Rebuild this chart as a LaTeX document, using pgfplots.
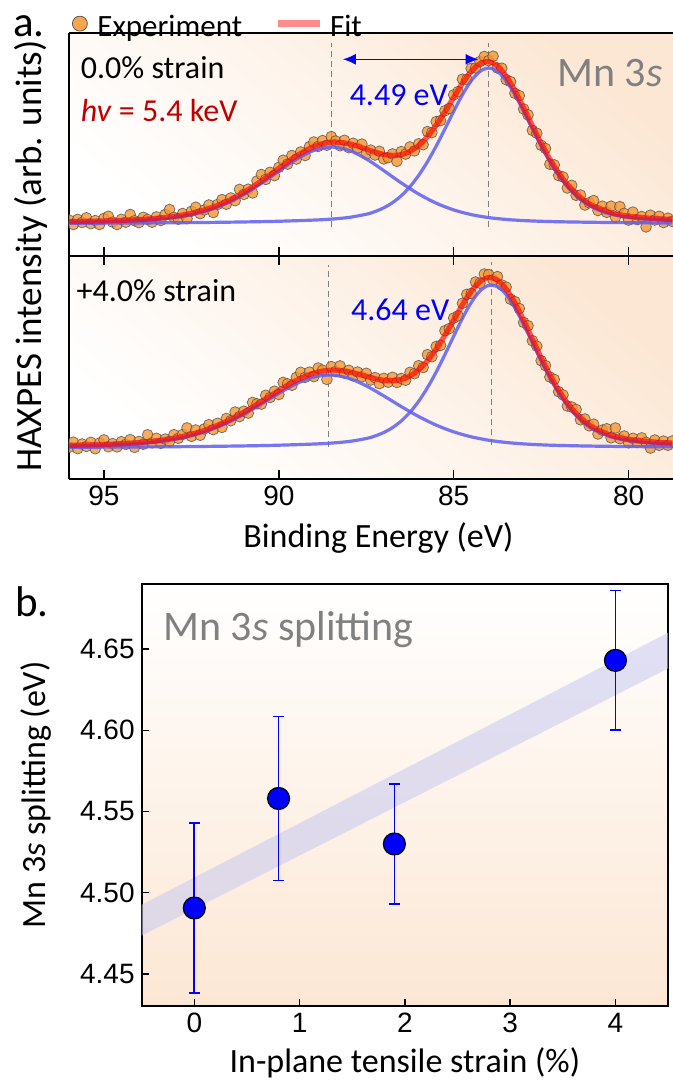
\documentclass[border=0pt]{standalone}
\usepackage{fontspec}
\setmainfont{Carlito}
\newfontfamily\tickfont{Liberation Sans}
\usepackage{pgfplots}
\usepackage{pgfplotstable}
\pgfplotsset{compat=1.18}
\usetikzlibrary{arrows.meta}

\definecolor{expfill}{HTML}{F7962F}
\definecolor{compblue}{HTML}{5F5FF2}
\definecolor{peach}{HTML}{FCE7D4}
\definecolor{band}{HTML}{C8C8F0}
\definecolor{hvred}{HTML}{C00000}

% ---- panel a, 0.0% strain ----
\pgfplotstableread{
x y
96.000 35.9
95.875 31.5
95.750 36.6
95.625 33.6
95.500 38.2
95.375 32.3
95.250 35.4
95.125 31.5
95.000 37.6
94.875 39.7
94.750 33.9
94.625 31.5
94.500 36.7
94.375 33.8
94.250 41.5
94.125 35.2
94.000 33.4
93.875 38.7
93.750 36.5
93.625 33.8
93.500 39.1
93.375 35.5
93.250 41.5
93.125 46.5
93.000 38.6
92.875 36.8
92.750 42.5
92.625 37.3
92.500 44.7
92.375 48.8
92.250 42.4
92.125 46.1
92.000 51.0
91.875 43.5
91.750 51.6
91.625 56.4
91.500 51.8
91.375 58.0
91.250 55.3
91.125 66.6
91.000 61.6
90.875 66.8
90.750 63.1
90.625 75.0
90.500 81.5
90.375 76.6
90.250 83.7
90.125 80.4
90.000 88.6
89.875 95.8
89.750 91.9
89.625 100.5
89.500 96.9
89.375 104.0
89.250 100.5
89.125 109.3
89.000 114.0
88.875 109.6
88.750 115.4
88.625 110.8
88.500 119.4
88.375 115.0
88.250 110.3
88.125 115.7
88.000 108.4
87.875 112.7
87.750 107.9
87.625 111.9
87.500 101.9
87.375 105.9
87.250 101.0
87.125 104.7
87.000 97.1
86.875 98.4
86.750 102.1
86.625 94.7
86.500 104.4
86.375 101.9
86.250 109.0
86.125 105.1
86.000 112.2
85.875 111.3
85.750 124.4
85.625 123.4
85.500 134.4
85.375 135.4
85.250 145.3
85.125 147.5
85.000 161.2
84.875 164.4
84.750 176.8
84.625 176.5
84.500 187.6
84.375 188.0
84.250 194.4
84.125 199.5
84.000 195.4
83.875 199.8
83.750 188.0
83.625 187.8
83.500 176.3
83.375 174.3
83.250 162.7
83.125 160.3
83.000 147.0
82.875 141.1
82.750 125.6
82.625 122.8
82.500 110.7
82.375 107.5
82.250 91.8
82.125 91.1
82.000 80.5
81.875 79.0
81.750 68.0
81.625 70.6
81.500 60.7
81.375 60.9
81.250 51.0
81.125 53.3
81.000 55.4
80.875 45.5
80.750 49.8
80.625 43.7
80.500 49.8
80.375 38.9
80.250 49.4
80.125 42.6
80.000 35.9
79.875 43.9
79.750 36.4
79.625 39.5
79.500 29.1
79.375 40.8
79.250 36.0
79.125 39.7
79.000 33.5
78.875 37.8
78.750 34.6
}\exptop

\pgfplotstableread{
x y
96 34.40
95.5 34.71
95 35.10
94.5 35.64
94 36.41
93.5 37.63
93 39.58
92.5 42.69
92 47.46
91.5 54.34
91 63.58
90.5 74.99
90 87.65
89.5 99.94
89 109.47
88.5 113.90
88 112.36
87.5 106.89
87.25 103.88
87 101.58
86.75 100.55
86.5 101.40
86.25 104.66
86 110.65
85.75 119.41
85.5 130.85
85.25 144.28
85 158.68
84.75 172.82
84.5 184.63
84.25 192.35
84 194.42
83.75 189.97
83.5 179.75
83.25 165.22
83 148.02
82.75 130.13
82.5 112.72
82.25 96.77
82 82.96
81.75 71.45
81.5 62.24
81.25 55.15
81 49.88
80.5 43.27
80 39.88
79.5 38.09
79 37.00
78.75 36.59
}\fittop

\pgfplotstableread{
x y
96 32.72
95 32.85
94 33.03
93 33.26
92 33.59
91 34.05
90 34.75
89 35.92
88.5 36.90
88 38.55
87.5 41.78
87.25 44.43
87 48.19
86.75 53.36
86.5 60.30
86.25 69.36
86 80.70
85.75 94.30
85.5 110.00
85.25 127.10
85 144.60
84.75 161.30
84.5 175.20
84.25 184.60
84 188.00
83.75 184.60
83.5 175.20
83.25 161.30
83 144.60
82.75 127.10
82.5 110.00
82.25 94.30
82 80.70
81.75 69.36
81.5 60.30
81.25 53.36
81 48.19
80.75 44.43
80.5 41.78
80 38.55
79.5 36.90
79 35.92
78.75 35.56
}\maintop

\pgfplotstableread{
x y
96 33.68
95.5 33.93
95 34.25
94.5 34.70
94 35.38
93.5 36.49
93 38.32
92.5 41.28
92 45.87
91.5 52.54
91 61.53
90.5 72.62
90 84.90
89.5 96.68
89 105.55
88.5 109.00
88 105.81
87.5 97.11
87 85.39
86.5 73.10
86 61.95
85.5 52.85
85 46.08
84.5 41.43
84 38.42
83.5 36.55
83 35.42
82.5 34.72
82 34.26
81 33.69
80 33.33
79 33.08
78.75 33.03
}\sattop

% ---- panel a, +4.0% strain ----
\pgfplotstableread{
x y
96.000 31.7
95.875 36.8
95.750 30.4
95.625 35.0
95.500 32.6
95.375 36.7
95.250 30.3
95.125 36.0
95.000 39.1
94.875 32.3
94.750 35.4
94.625 32.1
94.500 37.3
94.375 34.6
94.250 39.4
94.125 31.6
94.000 37.5
93.875 34.8
93.750 44.2
93.625 36.2
93.500 40.7
93.375 35.7
93.250 39.9
93.125 37.6
93.000 44.3
92.875 40.7
92.750 44.6
92.625 51.1
92.500 42.7
92.375 49.0
92.250 43.8
92.125 50.2
92.000 54.3
91.875 49.4
91.750 55.7
91.625 51.6
91.500 60.6
91.375 58.3
91.250 67.0
91.125 62.4
91.000 67.8
90.875 65.9
90.750 76.5
90.625 75.2
90.500 74.9
90.375 83.7
90.250 81.5
90.125 87.8
90.000 84.5
89.875 96.6
89.750 95.2
89.625 93.7
89.500 101.6
89.375 106.7
89.250 101.6
89.125 106.9
89.000 102.4
88.875 111.0
88.750 108.9
88.625 99.6
88.500 112.4
88.375 107.5
88.250 113.1
88.125 106.0
88.000 108.7
87.875 103.2
87.750 107.0
87.625 102.3
87.500 105.7
87.375 99.0
87.250 101.4
87.125 95.4
87.000 100.7
86.875 96.8
86.750 101.7
86.625 96.6
86.500 100.5
86.375 98.8
86.250 106.7
86.125 105.3
86.000 113.3
85.875 111.5
85.750 124.3
85.625 122.3
85.500 132.5
85.375 133.7
85.250 148.3
85.125 150.4
85.000 161.0
84.875 163.2
84.750 175.7
84.625 184.7
84.500 185.6
84.375 197.0
84.250 195.8
84.125 205.0
84.000 204.4
83.875 199.2
83.750 202.4
83.625 194.0
83.500 191.9
83.375 179.8
83.250 177.4
83.125 170.5
83.000 156.6
82.875 153.3
82.750 138.3
82.625 132.9
82.500 118.3
82.375 113.4
82.250 102.0
82.125 99.6
82.000 87.3
81.875 84.1
81.750 73.0
81.625 72.0
81.500 69.5
81.375 59.2
81.250 60.0
81.125 53.2
81.000 54.8
80.875 45.0
80.750 48.9
80.625 50.2
80.500 41.2
80.375 51.0
80.250 40.4
80.125 43.0
80.000 36.2
79.875 40.7
79.750 36.6
79.625 41.1
79.500 36.7
79.375 30.9
79.250 39.0
79.125 33.7
79.000 37.9
78.875 33.7
78.750 38.0
}\expmid

\pgfplotstableread{
x y
96 33.69
95.5 34.07
95 34.58
94.5 35.32
94 36.44
93.5 38.16
93 40.80
92.5 44.70
92 50.24
91.5 57.62
91 66.83
90.5 77.42
90 88.49
89.5 98.59
89 105.91
88.5 108.91
88 107.22
87.5 102.67
87.25 100.34
87 98.66
86.75 98.20
86.5 99.50
86.25 103.06
86 109.26
85.75 118.28
85.5 129.95
85.25 143.84
85 159.03
84.75 174.21
84.5 187.62
84.25 197.33
84 201.43
83.75 198.91
83.5 189.94
83.25 175.86
83 158.55
82.75 139.81
82.5 121.27
82.25 104.02
82 88.76
81.75 75.92
81.5 65.54
81.25 57.45
81 51.33
80.5 43.65
80 39.72
79.5 37.66
79 36.42
78.75 35.97
}\fitmid

\pgfplotstableread{
x y
96 31.74
95 31.88
94 32.06
93 32.30
92 32.63
91 33.10
90 33.81
89 34.96
88.5 35.92
88 37.50
87.5 40.50
87.25 43.00
87 46.52
86.75 51.41
86.5 58.04
86.25 66.76
86 77.83
85.75 91.33
85.5 107.06
85.25 124.55
85 142.87
84.75 160.73
84.5 176.41
84.25 187.99
84 193.64
83.75 192.37
83.5 184.41
83.25 171.13
83 154.46
82.75 136.23
82.5 118.09
82.25 101.17
82 86.18
81.75 73.56
81.5 63.36
81.25 55.43
81 49.45
80.5 41.99
80 38.25
79.5 36.33
79 35.22
78.75 34.83
}\mainmid

\pgfplotstableread{
x y
96 32.95
95.5 33.26
95 33.70
94.5 34.36
94 35.38
93.5 36.99
93 39.50
92.5 43.25
92 48.61
91.5 55.78
91 64.73
90.5 75.00
90 85.68
89.5 95.28
89 101.95
88.5 103.99
88 100.72
87.5 93.17
87 83.14
86.5 72.46
86 62.43
85.5 53.89
85 47.16
84.5 42.21
84 38.79
83.5 36.53
83 35.09
82.5 34.18
82 33.58
81 32.88
80 32.47
79 32.20
78.75 32.14
}\satmid

\tikzset{note/.style={inner sep=0pt, font=\fontsize{16}{18}\selectfont}}
\pgfplotsset{
  expleg/.style={legend image code/.code={%
    \path[draw=none, fill=none] (0pt,-1pt) rectangle (10.5pt,1pt);
    \draw[##1] plot coordinates {(5.25pt,1.7pt)};}},
  fitleg/.style={legend image code/.code={%
    \draw[##1] (0pt,1.7pt) -- (21pt,1.7pt);}},
}

\begin{document}
\begin{tikzpicture}
\path[use as bounding box] (0,0) rectangle (336.5pt,-541pt);
\pgfplotsset{
  spec/.style={
    scale only axis, width=302pt, height=111.5pt,
    x dir=reverse, xmin=78.73, xmax=96, ymin=0, ymax=223,
    xtick={80,85,90,95}, ytick=\empty,
    axis x line*=box, axis y line*=left,
    tick align=inside, major tick length=4.5pt,
    axis line style={line width=0.9pt},
    tick style={black, line width=0.7pt},
    clip marker paths=true,
    axis background/.style={shade, top color=peach, bottom color=white, middle color=peach!45!white, shading angle=-40},
    ticklabel style={font=\tickfont\fontsize{14}{16}\selectfont},
    /pgf/number format/assume math mode=true,
  },
  expt/.style={only marks, mark=*, mark size=2.7pt,
    mark options={fill=expfill, fill opacity=0.8, draw=black!70, draw opacity=0.8, line width=0.35pt}},
  comp/.style={compblue, line width=1.6pt, opacity=0.85, smooth, no marks},
  fitl/.style={red, line width=2.6pt, opacity=0.65, smooth, no marks},
  guide/.style={gray, line width=0.5pt, dash pattern=on 3pt off 2pt, no marks},
}

% top panel: 0.0 % strain
\begin{axis}[spec, at={(34.5pt,-16.5pt)}, anchor=north west,
  xtick pos=left, xticklabels={},
  legend columns=2,
  legend style={draw=none, fill=none, at={(axis description cs:0,1)}, anchor=south west,
    inner xsep=0pt, inner ysep=0pt, yshift=-3.3pt, font=\fontsize{15.5}{17}\selectfont,
    nodes={inner sep=0pt},
    /tikz/every odd column/.append style={column sep=3.5pt},
    /tikz/every even column/.append style={column sep=16pt}}]
\addlegendimage{expleg, only marks, mark=*, mark size=3.75pt,
  mark options={fill=expfill, fill opacity=0.85, draw=black!70, line width=0.35pt}}
\addlegendentry{Experiment}
\addlegendimage{fitleg, red, opacity=0.45, line width=3.5pt}
\addlegendentry{Fit}
\addplot[guide, forget plot] coordinates {(88.49,29) (88.49,213)};
\addplot[guide, forget plot] coordinates {(84.00,29) (84.00,213)};
\addplot[expt, forget plot] table {\exptop};
\addplot[comp, forget plot] table {\maintop};
\addplot[comp, forget plot] table {\sattop};
\addplot[fitl, forget plot] table {\fittop};
\draw[blue, line width=0.8pt, {Latex[length=6.5pt,width=5.5pt]}-{Latex[length=6.5pt,width=5.5pt]}]
  (axis cs:88.17,196.7) -- (axis cs:84.29,196.7);
\node[note, anchor=west] at (axis cs:95.67,188) {0.0\% strain};
\node[note, anchor=west, text=hvred] at (axis cs:95.67,145) {\textit{hv} = 5.4 keV};
\node[note, text=blue] at (axis cs:86.57,161) {4.49 eV};
\node[inner sep=0pt, anchor=east, text=gray, font=\fontsize{21}{24}\selectfont] at (axis cs:79.02,183) {Mn 3\textit{s}};
\end{axis}

% middle panel: +4.0 % strain
\begin{axis}[spec, at={(34.5pt,-128pt)}, anchor=north west,
  xtick pos=both, xticklabel pos=left,
  xlabel={Binding Energy (eV)},
  xlabel style={at={(axis description cs:0.5,0)}, anchor=center, xshift=3.75pt, yshift=-29.5pt,
    font=\fontsize{17}{19}\selectfont}]
\addplot[guide] coordinates {(88.59,32) (88.59,214)};
\addplot[guide] coordinates {(83.92,34) (83.92,217)};
\addplot[expt] table {\expmid};
\addplot[comp] table {\mainmid};
\addplot[comp] table {\satmid};
\addplot[fitl] table {\fitmid};
\node[note, anchor=west] at (axis cs:95.79,188.2) {+4.0\% strain};
\node[note, text=blue] at (axis cs:86.53,169) {4.64 eV};
\end{axis}

\node[rotate=90, font=\fontsize{18.5}{20}\selectfont] at (15.5pt,-128pt) {HAXPES intensity (arb. units)};
\node[anchor=base west, inner sep=0pt, font=\fontsize{21.5}{24}\selectfont] at (6.5pt,-18pt) {a.};
\node[anchor=base west, inner sep=0pt, font=\fontsize{21.5}{24}\selectfont] at (7.5pt,-308.3pt) {b.};

% panel b
\begin{axis}[scale only axis, width=263.2pt, height=210.9pt,
  at={(70.85pt,-292pt)}, anchor=north west,
  xmin=-0.5, xmax=4.5, ymin=4.4304, ymax=4.69,
  xtick={0,1,2,3,4}, ytick={4.45,4.50,4.55,4.60,4.65},
  xtick pos=left, ytick pos=left,
  tick align=inside, major tick length=3.5pt,
  axis line style={line width=0.9pt},
  tick style={black, line width=0.7pt},
  clip marker paths=true,
  axis background/.style={shade, top color=white, bottom color=peach},
  ticklabel style={font=\tickfont\fontsize{14}{16}\selectfont},
  yticklabel style={/pgf/number format/.cd, fixed, fixed zerofill, precision=2},
  /pgf/number format/assume math mode=true,
  xlabel={In-plane tensile strain (\%)},
  ylabel={Mn 3\textit{s} splitting (eV)},
  xlabel style={at={(axis description cs:0.5,0)}, anchor=center, yshift=-28.7pt,
    font=\fontsize{17}{19}\selectfont},
  ylabel style={at={(axis description cs:-0.2014,0.5)}, anchor=center,
    font=\fontsize{17}{19}\selectfont}]
\addplot[draw=none, fill=band, fill opacity=0.55] coordinates
  {(-0.5,4.4736) (4.5,4.6380) (4.5,4.6600) (-0.5,4.4926)} -- cycle;
\addplot[only marks, mark=*, mark size=5.5pt,
  mark options={fill=blue, draw=black, line width=0.6pt},
  error bars/.cd, y dir=both, y explicit,
  error bar style={draw=blue, line width=0.85pt},
  error mark options={rotate=90, draw=blue, mark size=2.75pt, line width=0.85pt}]
  coordinates {
  (0.0,4.4906) +- (0,0.0523)
  (0.8,4.5580) +- (0,0.0505)
  (1.9,4.5300) +- (0,0.0370)
  (4.0,4.6430) +- (0,0.0430)
  };
\node[anchor=west, inner sep=0pt, text=gray, font=\fontsize{21}{24}\selectfont]
  at (axis cs:-0.297,4.662) {Mn 3\textit{s} splitting};
\end{axis}
\end{tikzpicture}
\end{document}
